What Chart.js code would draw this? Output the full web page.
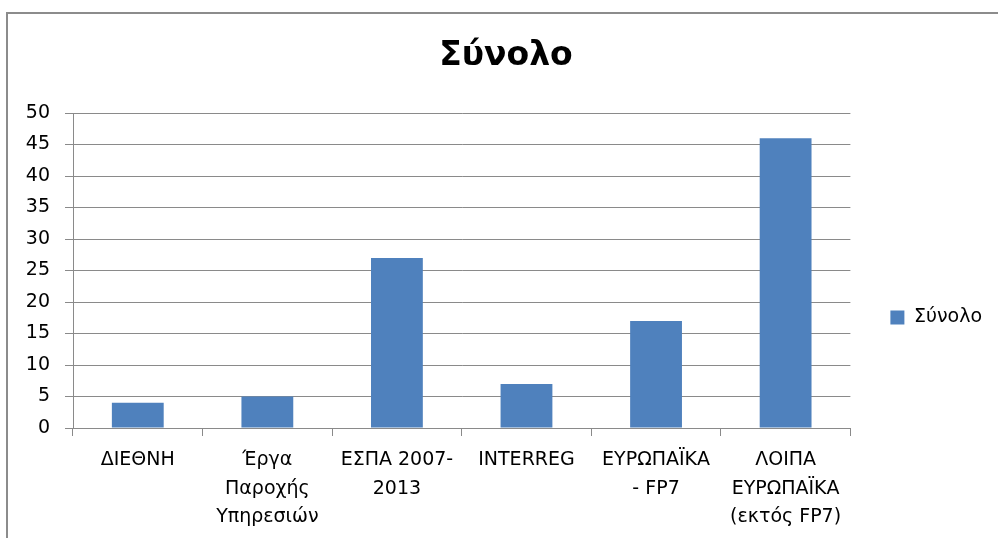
<!DOCTYPE html>
<html>
<head>
<meta charset="utf-8">
<script src="https://cdn.jsdelivr.net/npm/chart.js@4/dist/chart.umd.min.js"></script>
<style>
html,body{margin:0;padding:0;background:#fff;}
#wrap{width:998px;height:538px;position:relative;}
</style>
</head>
<body>
<div id="wrap"><canvas id="c" width="998" height="538"></canvas></div>
<script>
const categories = [
  ['ΔΙΕΘΝΗ'],
  ['Έργα', 'Παροχής', 'Υπηρεσιών'],
  ['ΕΣΠΑ 2007-', '2013'],
  ['INTERREG'],
  ['ΕΥΡΩΠΑΪΚΑ', '- FP7'],
  ['ΛΟΙΠΑ', 'ΕΥΡΩΠΑΪΚΑ', '(εκτός FP7)']
];
const seriesName = 'Σύνολο';
const values = [4, 5, 27, 7, 17, 46];
const chartTitle = 'Σύνολο';
const yMin = 0, yMax = 50, yStep = 5;

const FONT = "'DejaVu Sans', sans-serif";
const GRID = '#8a8a8a';

const framePlugin = {
  id: 'frame',
  beforeDraw(chart) {
    const ctx = chart.ctx;
    ctx.save();
    ctx.fillStyle = '#fff';
    ctx.fillRect(0, 0, chart.width, chart.height);
    ctx.strokeStyle = '#8c8c8c';
    ctx.lineWidth = 2;
    ctx.beginPath();
    ctx.moveTo(7, chart.height + 5);
    ctx.lineTo(7, 13);
    ctx.lineTo(chart.width + 5, 13);
    ctx.stroke();
    ctx.restore();
  }
};

new Chart(document.getElementById('c'), {
  type: 'bar',
  data: {
    labels: categories,
    datasets: [{
      label: seriesName,
      data: values,
      backgroundColor: '#4F81BD',
      borderWidth: 0,
      barPercentage: 0.4,
      categoryPercentage: 1.0
    }]
  },
  plugins: [framePlugin],
  options: {
    responsive: false,
    animation: false,
    devicePixelRatio: 1,
    layout: { padding: { left: 20, right: 6, top: 0, bottom: 0 } },
    plugins: {
      title: {
        display: true,
        text: chartTitle,
        color: '#000',
        font: { family: FONT, size: 33, weight: 'bold', lineHeight: 1.2 },
        padding: { top: 37, bottom: 36.4 }
      },
      legend: {
        position: 'right',
        maxWidth: 142,
        title: { display: true, text: '', font: { size: 10, lineHeight: 1 }, padding: { top: 87, bottom: 0 } },
        labels: {
          boxWidth: 14,
          boxHeight: 14,
          padding: 40,
          color: '#000',
          font: { family: FONT, size: 19 }
        }
      },
      tooltip: { enabled: false }
    },
    scales: {
      x: {
        offset: true,
        afterFit(scale) { scale.height = 110; },
        grid: { display: true, drawOnChartArea: false, drawTicks: true, tickLength: 8, color: GRID, offset: true },
        border: { display: true, color: GRID, width: 1 },
        ticks: {
          color: '#000',
          maxRotation: 0,
          minRotation: 0,
          autoSkip: false,
          padding: 10,
          font: { family: FONT, size: 19, lineHeight: 1.5 }
        }
      },
      y: {
        min: yMin,
        max: yMax,
        afterFit(scale) { scale.width = 53; },
        grid: { color: GRID, tickLength: 8, lineWidth: 1 },
        border: { display: true, color: GRID, width: 1 },
        ticks: {
          stepSize: yStep,
          color: '#000',
          padding: 15,
          font: { family: FONT, size: 19 }
        }
      }
    }
  }
});
</script>
</body>
</html>
